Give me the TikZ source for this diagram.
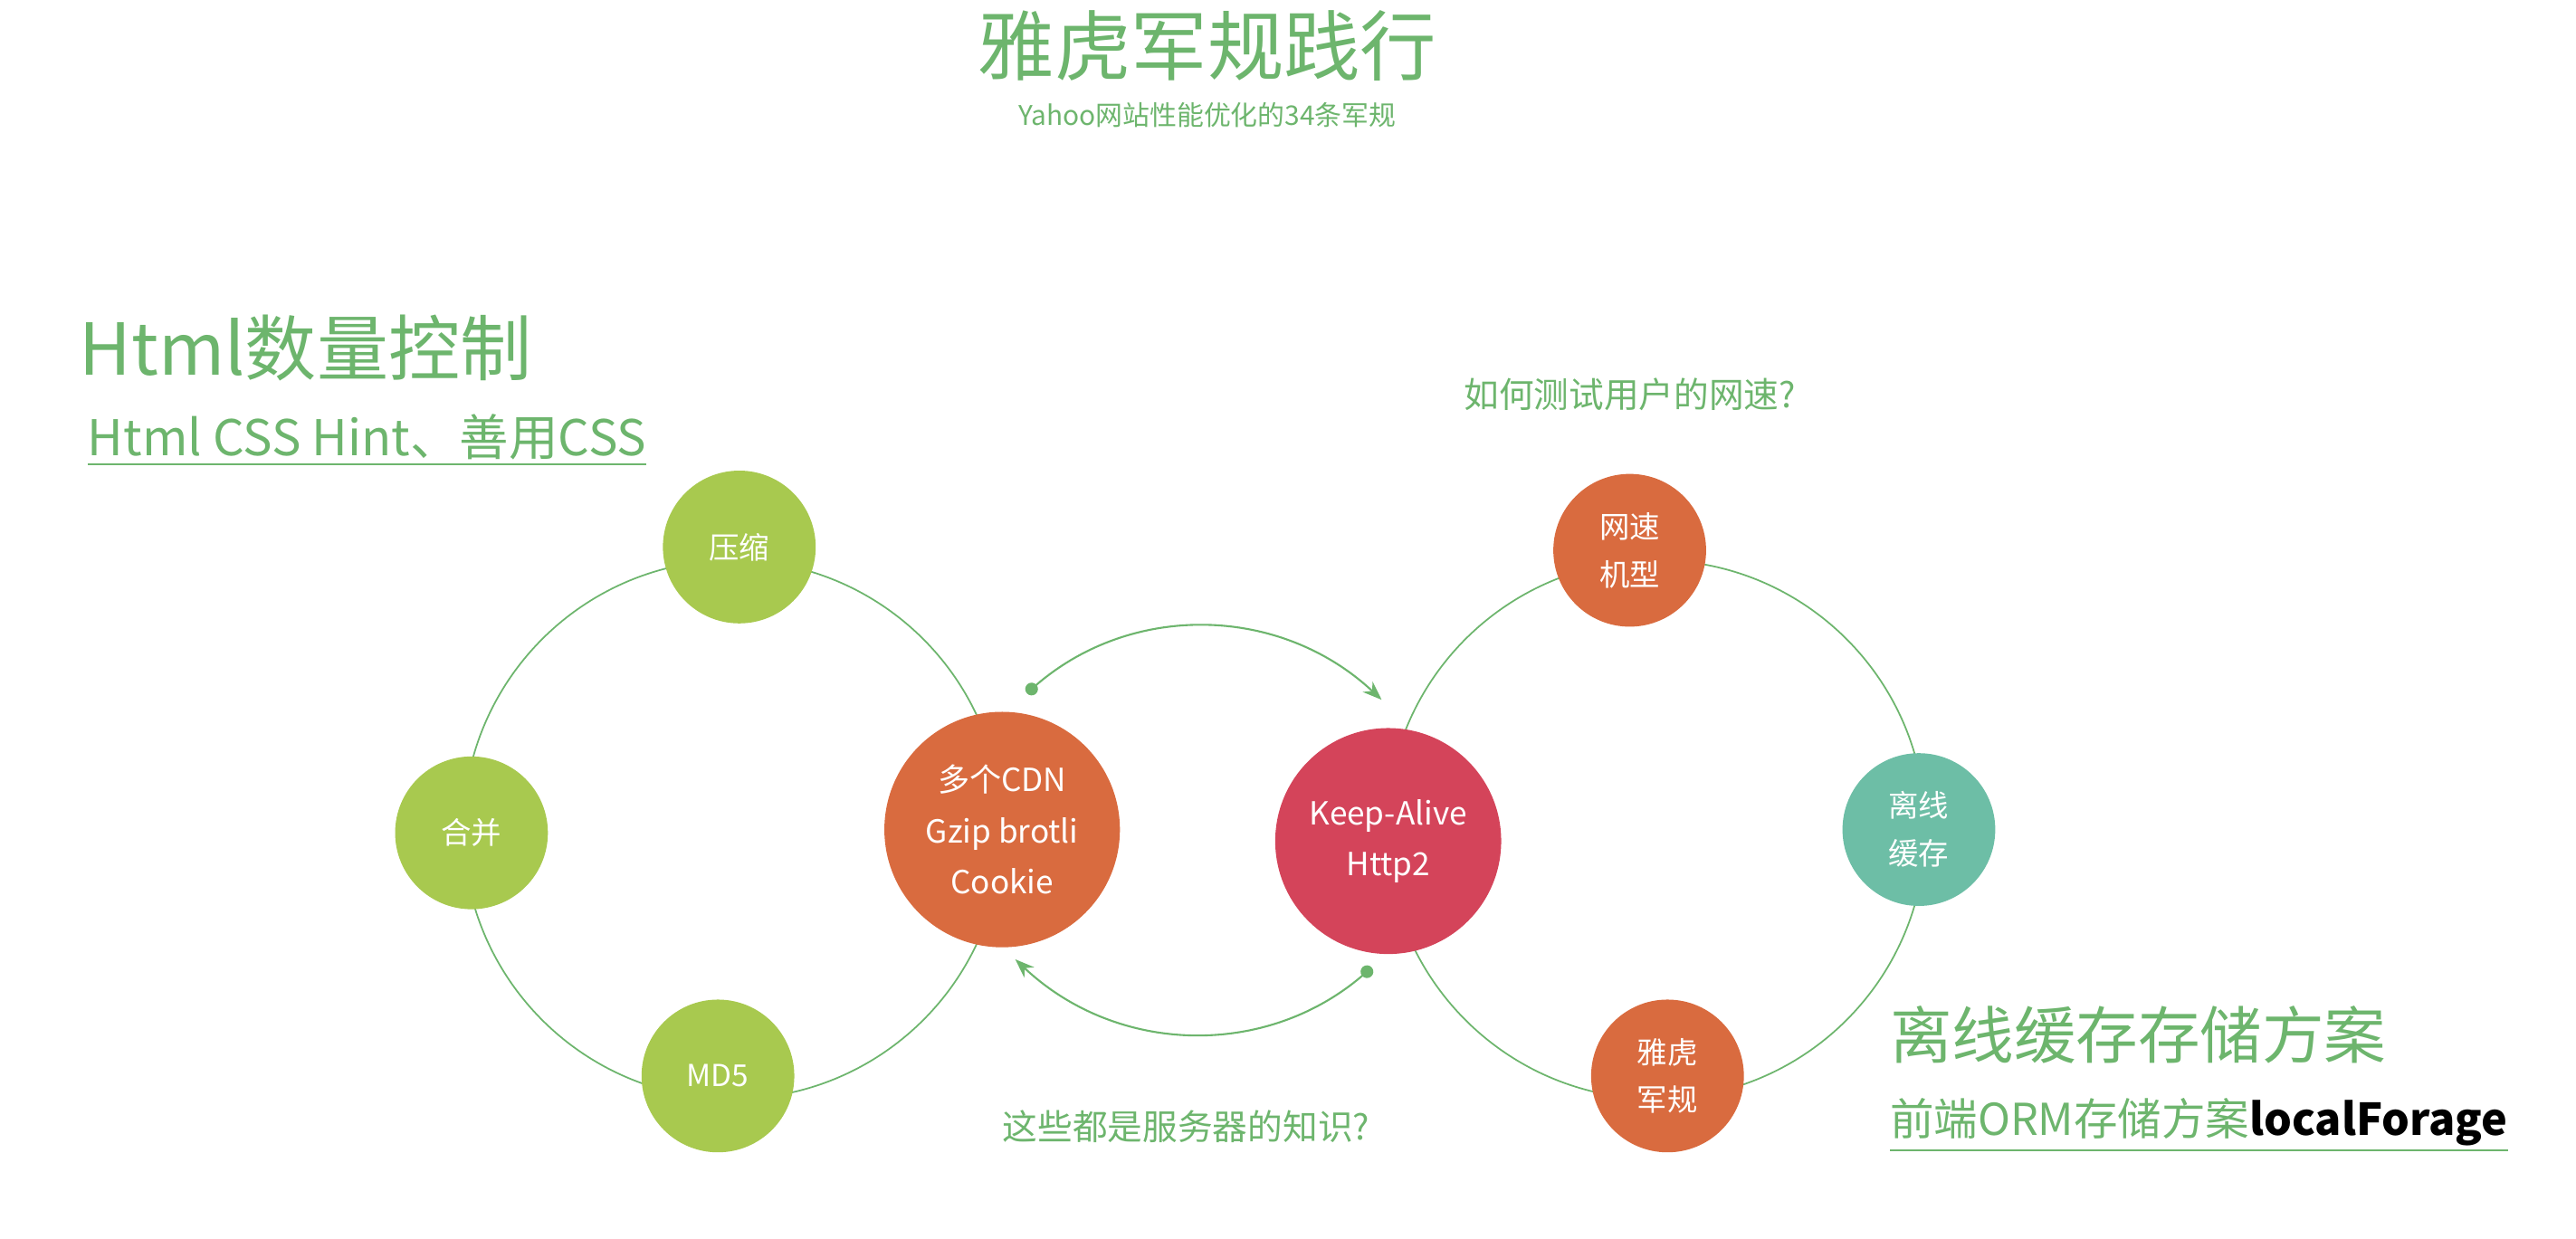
\documentclass[tikz,border=0pt]{standalone}
\usepackage{fontspec}
\setmainfont{Noto Sans CJK SC}
\usetikzlibrary{arrows.meta,positioning}
\definecolor{txtgreen}{HTML}{6DB56D}
\definecolor{lime}{HTML}{A8C94F}
\definecolor{burnt}{HTML}{D96B3F}
\definecolor{rose}{HTML}{D4445A}
\definecolor{teal}{HTML}{6DBEA6}

\begin{document}
\begin{tikzpicture}[x=0.01815cm, y=-0.01815cm]
\tikzset{ring/.style={draw=txtgreen, line width=0.5pt},
  dot/.style={circle, fill=#1, text=white, align=center, font=\fontsize{9.5}{15}\selectfont,
    minimum size=48pt, inner sep=0pt},
  big/.style={dot=#1, minimum size=74pt, font=\fontsize{10}{16}\selectfont},
  swing/.style={draw=txtgreen, line width=0.6pt},
  heading/.style={text=txtgreen, anchor=west, inner sep=0pt}}
\useasboundingbox (0,0) rectangle (1568,754);

    % titles
    \node[text=txtgreen, font=\fontsize{24}{30}\selectfont] (title) at (735,28) {雅虎军规践行};
    \node[text=txtgreen, font=\fontsize{8.5}{10}\selectfont] (subtitle) at (735,70) {Yahoo网站性能优化的34条军规};
    \node[heading, font=\fontsize{22.5}{28}\selectfont] (html) at (48,212) {Html数量控制};
    \node[heading, font=\fontsize{15.5}{18}\selectfont] (hint) at (53,268) {\underline{Html CSS Hint、善用CSS}};
    \node[heading, font=\fontsize{19.5}{25}\selectfont] (offline) at (1150,630) {离线缓存存储方案};
    \node[heading, font=\fontsize{13.8}{18}\selectfont] (orm) at (1150,685)
    {\underline{前端ORM存储方案\textcolor{black}{\textbf{localForage}}}};
    \node[text=txtgreen, font=\fontsize{11}{13}\selectfont] (netq) at (992,240) {如何测试用户的网速?};
    \node[text=txtgreen, font=\fontsize{11}{13}\selectfont] (srvq) at (722,686) {这些都是服务器的知识?};

    % rings
    \draw[ring] (446,505) circle (164);
    \draw[ring] (1008,505) circle (164);

    % circles
    \node[dot=lime] (zip) at (450,333) {压缩};
    \node[dot=lime] (merge) at (287,507) {合并};
    \node[dot=lime] (md5) at (437,655) {MD5};
    \node[big=burnt] (cdn) at (610,505) {多个CDN\\Gzip brotli\\Cookie};
    \node[big=rose, minimum size=71pt] (alive) at (845,512) {Keep-Alive\\Http2};
    \node[dot=burnt] (speed) at (992,335) {网速\\机型};
    \node[dot=teal] (cache) at (1168,505) {离线\\缓存};
    \node[dot=burnt] (rules) at (1015,655) {雅虎\\军规};

    % swing arrows
    \coordinate (topL) at (625,422);
    \coordinate (topR) at (841,426);
    \coordinate (botR) at (835,589);
    \coordinate (botL) at (618,584);
    \draw[swing, {Circle[length=4pt]}-{Stealth[length=6pt]}] (topL) to[bend left=42] (topR);
    \draw[swing, {Circle[length=4pt]}-{Stealth[length=6pt]}] (botR) to[bend left=42] (botL);
\end{tikzpicture}
\end{document}
